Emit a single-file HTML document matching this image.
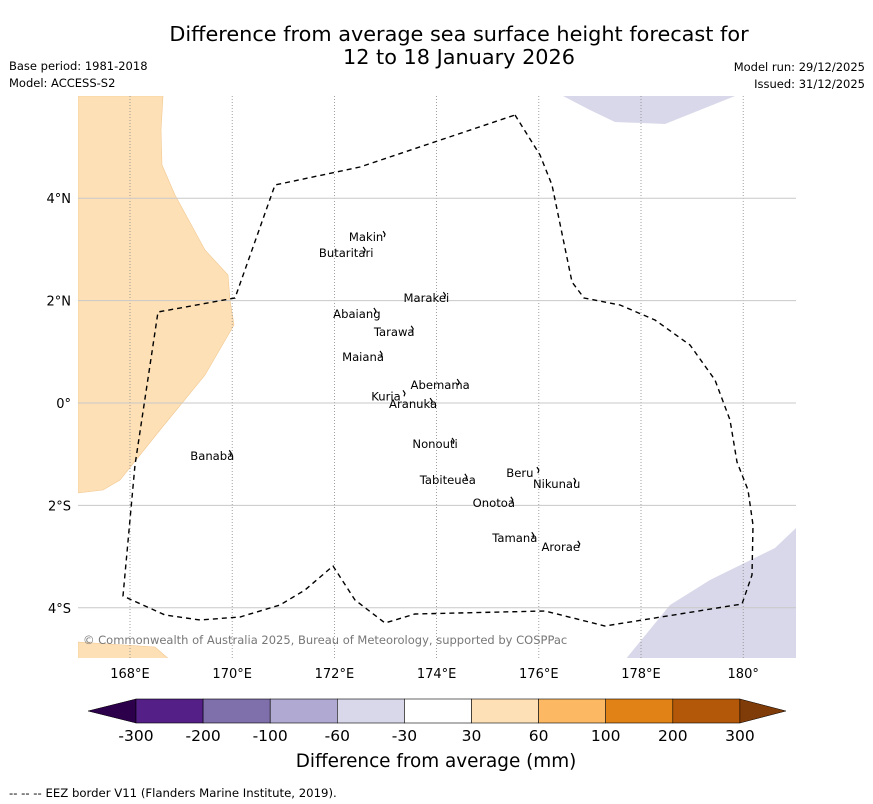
<!DOCTYPE html>
<html><head><meta charset="utf-8"><style>
body{margin:0;background:#fff;}
svg{display:block;font-family:"DejaVu Sans","Liberation Sans",sans-serif;}
</style></head><body>
<svg id="chart" width="873" height="804" viewBox="0 0 873 804">
<text x="459" y="41" font-size="20.8" text-anchor="middle">Difference from average sea surface height forecast for</text>
<text x="459" y="64" font-size="20.8" text-anchor="middle">12 to 18 January 2026</text>
<text x="9" y="70" font-size="11.5">Base period: 1981-2018</text>
<text x="9" y="87" font-size="11.5">Model: ACCESS-S2</text>
<text x="865" y="71" font-size="11.5" text-anchor="end">Model run: 29/12/2025</text>
<text x="865" y="88" font-size="11.5" text-anchor="end">Issued: 31/12/2025</text>
<defs><clipPath id="mc"><rect x="78" y="96" width="718" height="562"/></clipPath></defs>
<g clip-path="url(#mc)">
<polygon fill="#fee0b6" stroke="#f1c890" stroke-width="0.6" points="163,96 161,130 162,165 175,195 205,250 228,275 230,300 234,325 205,375 160,430 120,480 103,490 78,493 78,96"/>
<polygon fill="#fee0b6" stroke="#f1c890" stroke-width="0.6" points="78,642 155,647 170,660 78,660"/>
<polygon fill="#d8d8ea" points="563,96 590,110 615,122 665,124 700,110 735,96"/>
<polygon fill="#d8d8ea" points="625,660 670,605 710,580 775,548 796,528 796,660"/>
<g id="grid"></g>
<polyline fill="none" stroke="#000" stroke-width="1.4" stroke-dasharray="5,4" points="515,115 540,155 552,185 572,282 584,298 620,305 655,320 690,345 715,380 730,420 737,462 748,490 753,525 752,575 742,604 605,626 545,611 415,614 385,623 355,600 333,566 305,590 280,605 240,617 200,620 165,615 123,596 135,465 158,312 235,298 275,185 360,167 515,115"/>
<g id="islands"></g>
<text x="83" y="644" font-size="11.5" fill="#777">© Commonwealth of Australia 2025, Bureau of Meteorology, supported by COSPPac</text>
</g>
<g id="axes"></g>
<g id="cbar"></g>
<text x="436" y="767" font-size="18.4" text-anchor="middle">Difference from average (mm)</text>
<text x="9" y="797" font-size="11.7">--  --  -- EEZ border V11 (Flanders Marine Institute, 2019).</text>
</svg>
<script>
const lonTicks=[168,170,172,174,176,178,180];
const lonLabels=["168°E","170°E","172°E","174°E","176°E","178°E","180°"];
const latTicks=[4,2,0,-2,-4];
const latLabels=["4°N","2°N","0°","2°S","4°S"];
const islandNames=["Makin","Butaritari","Marakei","Abaiang","Tarawa","Maiana","Abemama","Kuria","Aranuka","Nonouti","Banaba","Beru","Nikunau","Tabiteuea","Onotoa","Tamana","Arorae"];
const islandLon=[172.62,172.23,173.80,172.44,173.17,172.56,174.07,173.01,173.54,173.97,169.61,175.63,176.35,174.22,175.12,175.53,176.43];
const islandLat=[3.24,2.93,2.05,1.74,1.39,0.90,0.35,0.13,-0.02,-0.80,-1.04,-1.37,-1.58,-1.50,-1.95,-2.64,-2.81];
const cbarLabels=["-300","-200","-100","-60","-30","30","60","100","200","300"];
const cbarColors=["#541f86","#7f70ab","#b0aad2","#d8d8ea","#ffffff","#fee0b6","#fcb862","#e08215","#b35808"];
const NS="http://www.w3.org/2000/svg";
const X=lon=>130+(lon-168)*51.1;
const Y=lat=>403-lat*51.2;
function mk(tag,attrs,parent,text){const e=document.createElementNS(NS,tag);for(const k in attrs)e.setAttribute(k,attrs[k]);if(text!==undefined)e.textContent=text;parent.appendChild(e);return e;}
const grid=document.getElementById('grid'),axes=document.getElementById('axes'),isl=document.getElementById('islands'),cb=document.getElementById('cbar');
lonTicks.forEach((v,i)=>{
  const l=mk('line',{x1:X(v),x2:X(v),y1:96,y2:658,stroke:'#888','stroke-width':0.8,'stroke-dasharray':'1,2'},grid);
  
  
  const t=mk('text',{x:X(v),y:678,'font-size':13,'text-anchor':'middle'},axes,lonLabels[i]);
  
  
});
latTicks.forEach((v,i)=>{
  const l=mk('line',{x1:78,x2:796,y1:Y(v),y2:Y(v),stroke:'#c8c8c8','stroke-width':1},grid);
  
  
  const t=mk('text',{x:71,y:Y(v)+5,'font-size':13,'text-anchor':'end'},axes,latLabels[i]);
  
  
});
islandNames.forEach((n,i)=>{
  const x=X(islandLon[i]),y=Y(islandLat[i]);
  const t=mk('text',{x:x,y:y+4,'font-size':11.6,'text-anchor':'middle'},isl,n);
  
  
  const p=mk('path',{d:`M${x+17} ${y-6} l2 3 l-1 3`,fill:'none',stroke:'#000','stroke-width':1.2},isl);
  
  
});
const x0=136,w=67.1,yt=699,h=24;
const lt=mk('polygon',{points:`88,711 ${x0},${yt} ${x0},${yt+h}`,fill:'#2d004b',stroke:'#000','stroke-width':0.5},cb);


cbarColors.forEach((c,i)=>{
  const r=mk('rect',{x:x0+i*w,y:yt,width:w,height:h,fill:c,stroke:'#000','stroke-width':0.6},cb);
  
  
});
const xe=x0+cbarColors.length*w;
const rt=mk('polygon',{points:`${xe},${yt} 786,711 ${xe},${yt+h}`,fill:'#7f3b08',stroke:'#000','stroke-width':0.5},cb);


cbarLabels.forEach((s,i)=>{
  const t=mk('text',{x:x0+i*w,y:741,'font-size':15.5,'text-anchor':'middle'},cb,s);
  
  
});
</script>
</body></html>
